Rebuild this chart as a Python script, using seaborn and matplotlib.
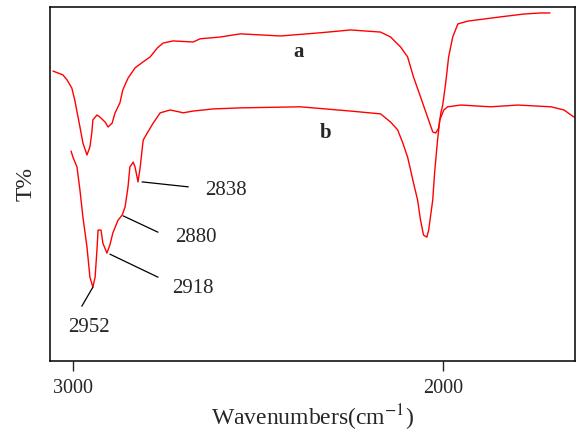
import numpy as np
import pandas as pd
import matplotlib
matplotlib.use("Agg")
import matplotlib.pyplot as plt
import seaborn as sns

sns.set_style('ticks')
plt.rcParams['font.family'] = ['Liberation Serif', 'DejaVu Serif']
plt.rcParams['mathtext.fontset'] = 'stix'

# spectrum a (upper trace)
wn_a = [3054, 3027, 3016, 3003, 2995, 2981, 2973, 2962, 2954, 2949, 2946, 2935, 2927,
        2913, 2905, 2894, 2886, 2873, 2865, 2851, 2832, 2810, 2791, 2772, 2756, 2729,
        2675, 2656, 2602, 2547, 2439, 2331, 2249, 2168, 2141, 2114, 2095, 2079, 2060,
        2041, 2027, 2019, 2011, 2005, 2000, 1992, 1984, 1973, 1959, 1932, 1843, 1780,
        1734, 1710]
t_a = [81.9, 80.8, 79.4, 77.1, 73.7, 66.1, 61.6, 58.2, 60.5, 64.4, 68.1, 69.5, 68.9,
       67.5, 66.1, 67.2, 70.1, 72.9, 76.6, 79.9, 82.8, 84.5, 85.9, 88.4, 89.8, 90.4,
       90.1, 91.0, 91.5, 92.4, 91.8, 92.7, 93.5, 92.9, 91.5, 88.7, 85.9, 80.2, 74.6,
       68.9, 64.7, 64.4, 65.8, 70.1, 72.3, 78.5, 85.9, 91.5, 95.2, 96.0, 97.2, 98.0,
       98.3, 98.3]

# spectrum b (lower trace)
wn_b = [3005, 3000, 2989, 2981, 2973, 2962, 2954, 2946, 2940, 2935, 2932, 2924, 2919,
        2908, 2900, 2892, 2878, 2867, 2859, 2851, 2846, 2837, 2832, 2824, 2818, 2813,
        2810, 2799, 2783, 2764, 2737, 2710, 2702, 2675, 2621, 2547, 2385, 2249, 2168,
        2141, 2122, 2108, 2095, 2087, 2079, 2068, 2060, 2052, 2043, 2038, 2027, 2022,
        2014, 2008, 1997, 1987, 1951, 1870, 1797, 1707, 1672, 1645]
t_b = [59.3, 57.6, 54.8, 48.3, 40.7, 32.2, 23.7, 20.9, 23.7, 31.4, 37.0, 37.0, 33.3,
       30.5, 32.8, 36.2, 39.8, 41.2, 43.5, 49.2, 54.8, 56.2, 54.8, 50.6, 54.8, 59.6,
       62.4, 64.4, 67.2, 70.1, 70.9, 70.3, 70.1, 70.6, 71.2, 71.5, 71.8, 70.6, 69.8,
       67.5, 65.3, 61.6, 57.6, 54.0, 50.3, 45.5, 39.8, 35.6, 35.0, 37.0, 45.5, 53.1,
       62.4, 68.1, 70.9, 71.8, 72.3, 71.8, 72.3, 71.8, 70.9, 68.9]

peak_labels = ['2838', '2880', '2918', '2952']
# (line start on curve, line end, text anchor)
peak_lines = [((2813, 50.6), (2688, 49.2), (2642, 48.3)),
              ((2864, 41.0), (2770, 36.4), (2724, 35.0)),
              ((2900, 30.2), (2770, 23.7), (2732, 20.6)),
              ((2946, 20.9), (2976, 15.5), (3014, 9.6))]

df = pd.concat([
    pd.DataFrame({'wn': wn_a, 'T': t_a, 'sample': 'a'}),
    pd.DataFrame({'wn': wn_b, 'T': t_b, 'sample': 'b'}),
])

fig = plt.figure(figsize=(5.78, 4.33), dpi=100)
ax = fig.add_axes([0.0865, 0.166, 0.9085, 0.818])

sns.lineplot(data=df, x='wn', y='T', units='sample', estimator=None, sort=False,
             color='#ff0000', linewidth=1.0, ax=ax)

for lab, (p0, p1, pt) in zip(peak_labels, peak_lines):
    ax.plot([p0[0], p1[0]], [p0[1], p1[1]], color='black', linewidth=0.9)
    ax.text(pt[0], pt[1], lab, ha='left', va='center', fontsize=15)

ax.text(2390, 87.3, 'a', fontsize=15, fontweight='bold', ha='center', va='center')
ax.text(2317, 64.4, 'b', fontsize=15, fontweight='bold', ha='center', va='center')

ax.set_xlim(3062, 1642)
ax.set_ylim(0, 100)
ax.set_xticks([3000, 2000])
ax.set_xticklabels(['3000', '2000'])
ax.set_yticks([])
ax.tick_params(axis='x', direction='out', length=7, width=1.0, labelsize=14.5, pad=6)
ax.set_xlabel('Wavenumbers(cm$^{-1}$)', fontsize=17, labelpad=3)
ax.set_ylabel('T%', fontsize=17, labelpad=10)
for s in ax.spines.values():
    s.set_linewidth(1.1)
    s.set_color('black')

fig.savefig('out.png', dpi=100)
